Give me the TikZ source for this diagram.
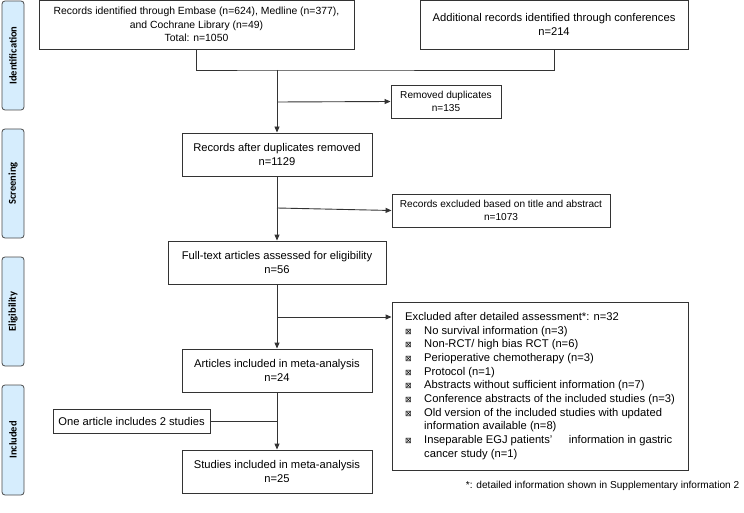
\documentclass[tikz,border=0pt]{standalone}
\usepackage{fontspec}
\setmainfont{Liberation Sans}
\newfontfamily\labelfont{Carlito}
\newfontfamily\symfont{DejaVu Sans}
\usetikzlibrary{arrows.meta, positioning, calc}
\definecolor{cline}{HTML}{333333}
\definecolor{cphase}{HTML}{D6EDFD}
\definecolor{cphaseedge}{HTML}{4A4A4A}
\newcommand{\xbul}{\makebox[19pt][l]{\symfont\footnotesize ⊠}}
\newcommand{\xind}{\hspace*{19pt}}
\tikzset{
  every picture/.style={x=1pt, y=-1pt, line width=0.9pt},
  box/.style={draw=cline, align=center, inner sep=2pt, font=\fontsize{11.2}{14}\selectfont},
  sidebox/.style={box, font=\fontsize{10.1}{13}\selectfont},
  phase/.style={draw=cphaseedge, fill=cphase, rounded corners=3pt, rotate=90, minimum height=22pt,
                line width=0.8pt, inner sep=0pt, font=\labelfont\bfseries\fontsize{10.5}{12}\selectfont},
  arrow/.style={-{Triangle[length=6pt, width=5pt]}, draw=cline},
  link/.style={draw=cline},
  note/.style={font=\fontsize{10.1}{12}\selectfont},
}
\begin{document}
\begin{tikzpicture}
  \useasboundingbox (0,0) rectangle (744,513);
  % phase labels
  \foreach \n/\t/\y/\h in {pid/Identification/55.5/109, psc/Screening/183.5/109, pel/Eligibility/311.5/109, pin/Included/440/110}
    \node[phase, minimum width=\h pt] (\n) at (13,\y) {\t};
  % main column
  \node[box, minimum width=315pt, minimum height=49pt, font=\fontsize{10.4}{13.5}\selectfont] (rec) at (196.5,24.5) {Records identified through Embase (n=624), Medline (n=377),\\and Cochrane Library (n=49)\\Total: n=1050};
  \node[box, minimum width=268pt, minimum height=49pt] (conf) at (554,24.5) {Additional records identified through conferences\\n=214};
  \node[box, minimum width=190pt, minimum height=43pt] (dedup) at (277,154.5) {Records after duplicates removed\\n=1129};
  \node[box, minimum width=218pt, minimum height=43pt] (full) at (277,262.5) {Full-text articles assessed for eligibility\\n=56};
  \node[box, minimum width=190pt, minimum height=43pt] (art) at (277,370.5) {Articles included in meta-analysis\\n=24};
  \node[box, minimum width=190pt, minimum height=43pt] (stud) at (277,471.5) {Studies included in meta-analysis\\n=25};
  % side boxes
  \node[sidebox, minimum width=110pt, minimum height=33pt] (dup) at (446,101.5) {Removed duplicates\\n=135};
  \node[sidebox, minimum width=218pt, minimum height=33pt] (tiab) at (501,210.5) {Records excluded based on title and abstract\\n=1073};
  \node[box, align=left, font=\fontsize{11.2}{13.67}\selectfont, inner xsep=13pt, minimum width=296pt, minimum height=168pt] (excl) at (540,386)
    {Excluded after detailed assessment*: n=32\\
     \xbul No survival information (n=3)\\
     \xbul Non-RCT/ high bias RCT (n=6)\\
     \xbul Perioperative chemotherapy (n=3)\\
     \xbul Protocol (n=1)\\
     \xbul Abstracts without sufficient information (n=7)\\
     \xbul Conference abstracts of the included studies (n=3)\\
     \xbul Old version of the included studies with updated\\
     \xind information available (n=8)\\
     \xbul Inseparable EGJ patients'\hspace{1.2em} information in gastric\\
     \xind cancer study (n=1)};
  \node[box, minimum width=157pt, minimum height=24pt] (one) at (131.5,421) {One article includes 2 studies};
  % connectors
  \coordinate (mrg) at (277,70);
  \coordinate (bdup) at (277,102);
  \coordinate (btiab) at (277,208);
  \coordinate (bexcl) at (277,317);
  \coordinate (bone) at (277,421);
  \draw[link] (rec.south) |- (mrg) -| (conf.south);
  \draw[arrow] (mrg) -- (dedup.north);
  \draw[arrow] (bdup) -- (dup.west);
  \draw[arrow] (dedup.south) -- (full.north);
  \draw[arrow] (btiab) -- (tiab.west);
  \draw[arrow] (full.south) -- (art.north);
  \draw[arrow] (bexcl) -- (bexcl -| excl.west);
  \draw[arrow] (art.south) -- (stud.north);
  \draw[link] (one.east) -- (bone);
  \node[note, anchor=east] (foot) at (743,486) {*: detailed information shown in Supplementary information 2};
\end{tikzpicture}
\end{document}
